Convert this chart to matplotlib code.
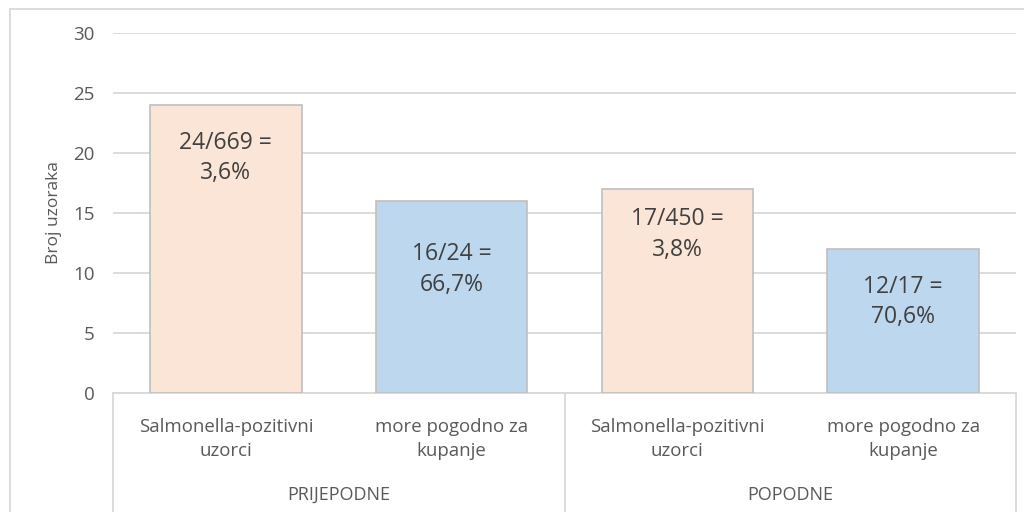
import matplotlib.pyplot as plt
from matplotlib.patches import Rectangle

# data
groups = ['PRIJEPODNE', 'POPODNE']
categories = ['Salmonella-pozitivni\nuzorci', 'more pogodno za\nkupanje',
              'Salmonella-pozitivni\nuzorci', 'more pogodno za\nkupanje']
values = [24, 16, 17, 12]
labels = ['24/669 =\n3,6%', '16/24 =\n66,7%', '17/450 =\n3,8%', '12/17 =\n70,6%']

# layout / style
label_y = [19.6, 10.3, 13.2, 7.6]
colors = ['#FBE5D6', '#BDD7EE', '#FBE5D6', '#BDD7EE']
txt = '#595959'
grid = '#D9D9D9'

plt.rcParams['font.family'] = ['Open Sans', 'DejaVu Sans']

fig = plt.figure(figsize=(10.24, 5.12), dpi=100)
W, H = 1024, 512
ax = fig.add_axes([113 / W, (H - 393) / H, (1016 - 113) / W, 360 / H])

x = list(range(len(values)))
ax.bar(x, values, width=0.67, color=colors, edgecolor='#BFBFBF', linewidth=1.2, zorder=3)
for xi, ly, lab in zip(x, label_y, labels):
    ax.text(xi, ly, lab, ha='center', va='center', fontsize=16.5, color='#404040',
            linespacing=1.35, zorder=4)

ax.set_xlim(-0.5, len(values) - 0.5)
ax.set_ylim(0, 30)
ax.set_yticks(range(0, 31, 5))
ax.yaxis.grid(True, color=grid, linewidth=1.3, zorder=0)
ax.tick_params(axis='y', length=0, pad=13, labelsize=13.5, labelcolor=txt)
ax.set_xticks([])
for s in ax.spines.values():
    s.set_visible(False)
ax.set_ylabel('Broj uzoraka', fontsize=12.5, color=txt, labelpad=8)

# category axis boxes
bot = -119 / 360
ax.plot([0, 1], [0, 0], transform=ax.transAxes, color=grid, lw=1.3, clip_on=False)
for xs in [0, 0.5, 1]:
    ax.plot([xs, xs], [0, bot], transform=ax.transAxes, color=grid, lw=1.3, clip_on=False)
for xi, cat in zip(x, categories):
    ax.text(xi, -25 / 360 * 30, cat, ha='center', va='top', fontsize=13.4, color=txt,
            linespacing=1.45)
for gi, g in enumerate(groups):
    ax.text(0.25 + 0.5 * gi, -102 / 360, g, transform=ax.transAxes, ha='center',
            va='center', fontsize=13, color=txt)

# outer chart border
fig.patches.append(Rectangle((10 / W, -0.1), 1.2, (H - 9) / H + 0.1, transform=fig.transFigure,
                             fill=False, edgecolor=grid, lw=1.3))

fig.savefig('out.png', dpi=100)
